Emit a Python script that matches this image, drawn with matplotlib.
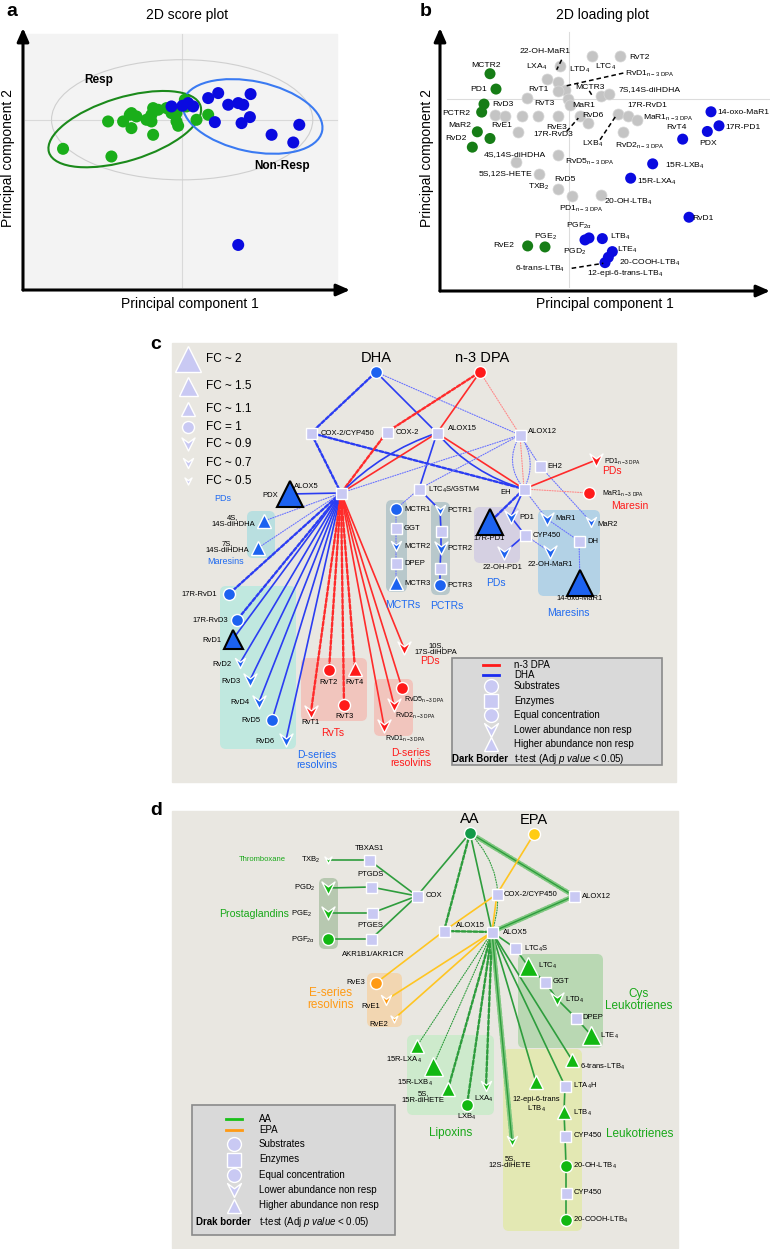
import matplotlib.pyplot as plt
from matplotlib.patches import Ellipse, Rectangle, FancyBboxPatch, FancyArrowPatch
from matplotlib.path import Path

plt.rcParams['font.family'] = ['Liberation Sans', 'DejaVu Sans']
plt.rcParams['mathtext.fontset'] = 'custom'
plt.rcParams['mathtext.rm'] = 'Liberation Sans'
plt.rcParams['mathtext.it'] = 'Liberation Sans:italic'
plt.rcParams['mathtext.bf'] = 'Liberation Sans:bold'
plt.rcParams['mathtext.default'] = 'regular'

# --- DATA: panel a (PCA scores) ---
resp_pc1 = [-3.57, -2.12, -2.22, -1.77, -1.52, -1.57, -1.37, -1.52, -0.92, -0.87,
            -0.92, -0.87, -0.72, -0.47, -0.32, -0.17, -0.12, -0.17, 0.08, 0.13,
            0.43, 0.78, -0.97, -1.07]
resp_pc2 = [-0.87, -1.10, -0.05, -0.05, -0.25, 0.15, 0.10, 0.20, -0.05, -0.45,
            0.15, 0.35, 0.30, 0.35, 0.20, -0.05, -0.18, 0.20, 0.60, 0.40,
            0.00, 0.15, 0.05, 0.00]
nonresp_pc1 = [1.68, 1.08, 0.78, 1.38, 1.68, 1.83, 2.05, 2.03, 1.78, 0.98, 2.68,
               3.33, 3.51, -0.32, 0.01, 0.33, 0.18]
nonresp_pc2 = [-3.75, 0.80, 0.65, 0.45, 0.50, 0.45, 0.77, 0.08, -0.10, -0.07,
               -0.45, -0.68, -0.15, 0.40, 0.42, 0.40, 0.50]

# --- DATA: panel b (PCA loadings) ---
load_green_pc1 = [-2.37, -2.19, -2.55, -2.62, -2.75, -2.37, -2.90, -1.24, -0.72]
load_green_pc2 = [0.75, 0.29, -0.16, -0.40, -0.99, -1.19, -1.45, -4.41, -4.44]
load_blue_pc1 = [4.26, 4.50, 4.15, 3.41, 2.51, 1.85, 3.60, 0.60, 0.48, 1.00, 1.30, 1.18, 1.08]
load_blue_pc2 = [-0.39, -0.81, -0.98, -1.21, -1.95, -2.38, -3.55, -4.17, -4.23, -4.19,
                 -4.58, -4.75, -4.91]
load_gray_pc1 = [0.68, 1.53, -0.27, -0.67, -0.32, -0.12, -0.34, -1.27, -0.02, 0.03,
                 0.95, 1.21, -2.22, -1.92, -1.42, -0.92, -0.32, 0.33, 0.58, 1.48,
                 1.78, 2.03, 1.63, -1.54, -0.32, -1.60, -0.90, -0.34, 0.08, 0.95]
load_gray_pc2 = [1.27, 1.29, 0.97, 0.59, 0.49, 0.27, 0.24, 0.01, -0.01, -0.19,
                 0.07, 0.14, -0.50, -0.51, -0.53, -0.53, -0.53, -0.53, -0.73, -0.45,
                 -0.51, -0.63, -1.01, -1.01, -1.68, -1.88, -2.25, -2.71, -2.91, -2.88]
load_labels = ['22-OH-MaR1', 'RvT2', 'MCTR2', 'LXA$_4$', 'LTD$_4$', 'LTC$_4$',
               'RvD1$_{n-3\\ DPA}$', 'PD1', 'RvT1', 'MCTR3', '7S,14S-diHDHA', 'RvD3',
               'RvT3', 'MaR1', '17R-RvD1', 'PCTR2', 'RvD6', 'MaR1$_{n-3\\ DPA}$', 'MaR2',
               'RvE1', 'RvE3', 'RvT4', 'RvD2', '4S,14S-diHDHA', '17R-RvD3', 'LXB$_4$',
               'RvD2$_{n-3\\ DPA}$', 'PDX', '14-oxo-MaR1', '17R-PD1', 'RvD5$_{n-3\\ DPA}$',
               '15R-LXB$_4$', '5S,12S-HETE', '15R-LXA$_4$', 'RvD5', 'TXB$_2$',
               '20-OH-LTB$_4$', 'PD1$_{n-3\\ DPA}$', 'RvD1', 'PGF$_{2\\alpha}$', 'LTB$_4$',
               'PGD$_2$', 'LTE$_4$', '20-COOH-LTB$_4$', '6-trans-LTB$_4$',
               '12-epi-6-trans-LTB$_4$', 'RvE2', 'PGE$_2$']
load_lab_x = [-0.72, 2.11, -2.49, -0.97, 0.33, 1.11, 2.43, -2.72, -0.92, 0.63, 2.43, -1.97,
              -0.75, 0.45, 2.35, -3.39, 0.73, 2.98, -3.29, -2.02, -0.37, 3.21, -3.39, -1.62,
              -0.47, 0.70, 2.13, 4.18, 5.23, 5.23, 0.61, 3.48, -1.89, 2.63, -0.12, -0.92,
              1.78, 0.38, 4.03, 0.31, 1.55, 0.18, 1.75, 2.43, -0.87, 1.68, -1.97, -0.72]
load_lab_y = [1.42, 1.25, 1.01, 0.94, 0.85, 0.95, 0.75, 0.27, 0.27, 0.35, 0.29, -0.16,
              -0.14, -0.21, -0.21, -0.43, -0.49, -0.58, -0.81, -0.81, -0.85, -0.85, -1.18,
              -1.66, -1.06, -1.36, -1.40, -1.33, -0.41, -0.86, -1.88, -2.00, -2.25, -2.48,
              -2.43, -2.63, -3.09, -3.29, -3.58, -3.81, -4.15, -4.58, -4.52, -4.91, -5.11,
              -5.25, -4.41, -4.13]
leader_lines = [((-0.22, 1.17), (-0.37, 0.87)), ((1.63, 0.77), (-0.07, 0.39)),
                ((-0.07, -0.98), (0.28, -0.58)), ((0.93, -1.23), (1.43, -0.48)),
                ((0.08, -5.08), (1.03, -4.93)), ((0.68, 0.12), (0.60, 0.25))]

# --- DATA: panel c network (key, x, y, fold change or None for enzyme, colour, t-test) ---
c_nodes = [
    ('DHA', 376, 372, 1, 'B', 0), ('DPA', 480, 372, 1, 'R', 0),
    ('COX2CYP', 311, 433, None, '', 0), ('COX2', 387, 432, None, '', 0),
    ('ALOX15', 437, 433, None, '', 0), ('ALOX12', 520, 435, None, '', 0),
    ('ALOX5', 341, 493, None, '', 0), ('LTC4S', 419, 489, None, '', 0),
    ('EH', 524, 489, None, '', 0), ('EH2', 540, 466, None, '', 0),
    ('CYP450', 525, 535, None, '', 0), ('DH', 579, 541, None, '', 0),
    ('PDX', 290, 494, 2, 'B', 1), ('4S14S', 264, 521, 1.1, 'B', 0),
    ('7S14S', 258, 548, 1.1, 'B', 0),
    ('MCTR1', 396, 509, 1, 'B', 0), ('GGT', 396, 528, None, '', 0),
    ('MCTR2', 396, 546, 0.7, 'B', 0), ('DPEP', 396, 563, None, '', 0),
    ('MCTR3', 396, 583, 1.1, 'B', 0),
    ('PCTR1', 440, 510, 0.7, 'B', 0), ('PCTRe1', 441, 531, None, '', 0),
    ('PCTR2', 441, 548, 0.9, 'B', 0), ('PCTRe2', 440, 568, None, '', 0),
    ('PCTR3', 440, 585, 1, 'B', 0),
    ('17R-PD1', 490, 522, 2, 'B', 1), ('PD1', 511, 517, 0.9, 'B', 0),
    ('22-OH-PD1', 504, 553, 0.9, 'B', 0), ('MaR1', 547, 519, 0.9, 'B', 0),
    ('MaR2', 591, 522, 0.7, 'B', 0), ('22-OH-MaR1', 550, 552, 0.9, 'B', 0),
    ('14-oxo-MaR1', 580, 583, 2, 'B', 1),
    ('PD1n3', 596, 460, 0.9, 'R', 0), ('MaR1n3', 589, 493, 1, 'R', 0),
    ('17R-RvD1', 229, 594, 1, 'B', 0), ('17R-RvD3', 237, 620, 1, 'B', 0),
    ('RvD1', 233, 639, 1.5, 'B', 1), ('RvD2', 240, 663, 0.7, 'B', 0),
    ('RvD3', 250, 680, 0.9, 'B', 0), ('RvD4', 259, 702, 0.9, 'B', 0),
    ('RvD5', 272, 720, 1, 'B', 0), ('RvD6', 286, 740, 0.9, 'B', 0),
    ('RvT1', 311, 712, 0.9, 'R', 0), ('RvT2', 329, 670, 1, 'R', 0),
    ('RvT3', 344, 705, 1, 'R', 0), ('RvT4', 355, 669, 1.1, 'R', 0),
    ('RvD5n3', 402, 688, 1, 'R', 0), ('RvD2n3', 394, 705, 0.9, 'R', 0),
    ('RvD1n3', 384, 726, 0.9, 'R', 0), ('10S17S', 404, 648, 0.9, 'R', 0),
]
c_edges = [
    ('DHA', 'COX2CYP', 'B', 'dash', 0), ('DHA', 'ALOX15', 'B', 'solid', 0),
    ('DHA', 'ALOX12', 'b', 'dot', 0), ('DPA', 'COX2', 'R', 'dash', 0),
    ('DPA', 'ALOX15', 'R', 'solid', 0), ('DPA', 'ALOX12', 'r', 'dot', 0),
    ('COX2CYP', 'ALOX5', 'B', 'dash', 0), ('COX2CYP', 'EH', 'B', 'dash', 0),
    ('COX2', 'ALOX5', 'R', 'dash', 0),
    ('ALOX15', 'ALOX5', 'B', 'solid', 0.12), ('ALOX15', 'ALOX5', 'R', 'solid', 0),
    ('ALOX15', 'EH', 'B', 'solid', 0.15), ('ALOX15', 'EH', 'R', 'solid', 0),
    ('ALOX15', 'LTC4S', 'B', 'solid', 0),
    ('ALOX12', 'ALOX5', 'b', 'dot', 0), ('ALOX12', 'LTC4S', 'b', 'dot', 0),
    ('ALOX12', 'EH', 'b', 'dot', 0.35), ('ALOX12', 'EH', 'r', 'dot', 0),
    ('ALOX12', 'EH', 'b', 'dot', -0.3), ('ALOX12', 'EH2', 'b', 'dot', 0),
    ('EH2', 'MaR2', 'b', 'dot', 0),
    ('ALOX5', 'PDX', 'B', 'solid', 0), ('ALOX5', '4S14S', 'b', 'dot', 0),
    ('ALOX5', '7S14S', 'b', 'dot', 0),
    ('ALOX5', '17R-RvD1', 'B', 'dash', 0), ('ALOX5', '17R-RvD3', 'B', 'dash', 0),
    ('ALOX5', 'RvD1', 'B', 'solid', 0), ('ALOX5', 'RvD2', 'B', 'solid', 0),
    ('ALOX5', 'RvD3', 'B', 'solid', 0), ('ALOX5', 'RvD4', 'B', 'solid', 0),
    ('ALOX5', 'RvD5', 'B', 'solid', 0), ('ALOX5', 'RvD6', 'B', 'solid', 0),
    ('ALOX5', 'RvT1', 'R', 'dash', 0), ('ALOX5', 'RvT2', 'R', 'dash', 0),
    ('ALOX5', 'RvT3', 'R', 'dash', 0), ('ALOX5', 'RvT4', 'R', 'dash', 0),
    ('ALOX5', 'RvD5n3', 'R', 'solid', 0), ('ALOX5', 'RvD2n3', 'R', 'solid', 0),
    ('ALOX5', 'RvD1n3', 'R', 'solid', 0), ('ALOX5', '10S17S', 'R', 'solid', 0),
    ('LTC4S', 'MCTR1', 'b', 'dot', 0), ('MCTR1', 'GGT', 'b', 'dot', 0),
    ('GGT', 'MCTR2', 'b', 'dot', 0), ('MCTR2', 'DPEP', 'b', 'dot', 0),
    ('DPEP', 'MCTR3', 'b', 'dot', 0),
    ('LTC4S', 'PCTR1', 'B', 'solid', 0), ('PCTR1', 'PCTRe1', 'B', 'solid', 0),
    ('PCTRe1', 'PCTR2', 'B', 'solid', 0), ('PCTR2', 'PCTRe2', 'B', 'solid', 0),
    ('PCTRe2', 'PCTR3', 'B', 'solid', 0),
    ('EH', 'PD1n3', 'R', 'solid', 0), ('EH', 'MaR1n3', 'r', 'dot', 0),
    ('EH', '17R-PD1', 'B', 'dash', 0), ('EH', 'PD1', 'B', 'solid', 0),
    ('EH', 'MaR1', 'b', 'dot', 0), ('PD1', 'CYP450', 'B', 'solid', 0),
    ('CYP450', '22-OH-PD1', 'B', 'solid', 0), ('CYP450', '22-OH-MaR1', 'b', 'dot', 0),
    ('MaR1', 'DH', 'b', 'dot', 0), ('DH', '14-oxo-MaR1', 'b', 'dot', 0),
]

# --- DATA: panel d network ---
d_nodes = [
    ('AA', 470, 833, 1, 'AA', 0), ('EPA', 534, 834, 1, 'EPA', 0),
    ('TBXAS1', 369, 860, None, '', 0), ('TXB2', 328, 860, 0.5, 'G', 0),
    ('PTGDS', 371, 887, None, '', 0), ('PGD2', 328, 888, 0.9, 'G', 0),
    ('PTGES', 372, 913, None, '', 0), ('PGE2', 328, 913, 0.9, 'G', 0),
    ('AKR', 371, 939, None, '', 0), ('PGF2a', 328, 939, 1, 'G', 0),
    ('COX', 417, 896, None, '', 0), ('COX2CYP', 497, 894, None, '', 0),
    ('ALOX12', 574, 896, None, '', 0), ('ALOX15', 444, 931, None, '', 0),
    ('ALOX5', 492, 932, None, '', 0), ('LTC4S', 515, 948, None, '', 0),
    ('LTC4', 528, 966, 1.5, 'G', 0), ('GGT', 545, 982, None, '', 0),
    ('LTD4', 557, 999, 0.9, 'G', 0), ('DPEP', 576, 1018, None, '', 0),
    ('LTE4', 591, 1035, 1.5, 'G', 0),
    ('RvE3', 376, 983, 1, 'O', 0), ('RvE1', 386, 1000, 0.7, 'O', 0),
    ('RvE2', 394, 1019, 0.5, 'O', 0),
    ('15R-LXA4', 417, 1046, 1.1, 'G', 0), ('15R-LXB4', 433, 1066, 1.5, 'G', 0),
    ('5S15R', 448, 1089, 1.1, 'G', 0), ('LXB4', 467, 1105, 1, 'G', 0),
    ('LXA4', 486, 1086, 0.7, 'G', 0), ('5S12S', 512, 1141, 0.7, 'G', 0),
    ('12epi', 536, 1082, 1.1, 'G', 0), ('6trans', 572, 1060, 1.1, 'G', 0),
    ('LTA4H', 565, 1086, None, '', 0), ('LTB4', 564, 1112, 1.1, 'G', 0),
    ('CYPa', 565, 1136, None, '', 0), ('20OH', 566, 1166, 1, 'G', 0),
    ('CYPb', 566, 1193, None, '', 0), ('20COOH', 566, 1220, 1, 'G', 0),
]
d_edges = [
    ('AA', 'COX', 'G', 'solid', 0), ('AA', 'ALOX15', 'G', 'dash', 0),
    ('AA', 'ALOX5', 'G', 'solid', 0), ('AA', 'ALOX5', 'G', 'dot', -0.3),
    ('AA', 'ALOX12', 'G', 'hatch', 0),
    ('EPA', 'COX2CYP', 'O', 'solid', 0), ('COX2CYP', 'ALOX15', 'O', 'solid', 0),
    ('COX2CYP', 'ALOX5', 'O', 'solid', 0), ('ALOX12', 'ALOX5', 'G', 'hatch', 0),
    ('ALOX15', 'ALOX5', 'G', 'dash', 0),
    ('COX', 'TBXAS1', 'G', 'solid', 0), ('COX', 'PTGDS', 'G', 'solid', 0),
    ('COX', 'PTGES', 'G', 'solid', 0), ('COX', 'AKR', 'G', 'solid', 0),
    ('TBXAS1', 'TXB2', 'G', 'solid', 0), ('PTGDS', 'PGD2', 'G', 'solid', 0),
    ('PTGES', 'PGE2', 'G', 'solid', 0), ('AKR', 'PGF2a', 'G', 'solid', 0),
    ('ALOX15', 'RvE3', 'O', 'solid', 0), ('ALOX5', 'RvE1', 'O', 'solid', 0),
    ('ALOX5', 'RvE2', 'O', 'solid', 0),
    ('ALOX5', 'LTC4S', 'G', 'solid', 0), ('LTC4S', 'LTC4', 'G', 'solid', 0),
    ('LTC4', 'GGT', 'G', 'solid', 0), ('GGT', 'LTD4', 'G', 'solid', 0),
    ('LTD4', 'DPEP', 'G', 'solid', 0), ('DPEP', 'LTE4', 'G', 'solid', 0),
    ('ALOX5', '6trans', 'G', 'solid', 0), ('ALOX5', 'LTA4H', 'G', 'solid', 0),
    ('ALOX5', '12epi', 'G', 'solid', 0), ('LTA4H', 'LTB4', 'G', 'solid', 0),
    ('LTB4', 'CYPa', 'G', 'solid', 0), ('CYPa', '20OH', 'G', 'solid', 0),
    ('20OH', 'CYPb', 'G', 'solid', 0), ('CYPb', '20COOH', 'G', 'solid', 0),
    ('ALOX5', '15R-LXA4', 'G', 'dot', 0), ('ALOX5', '15R-LXB4', 'G', 'dot', 0),
    ('ALOX5', '5S15R', 'G', 'dash', 0), ('ALOX5', 'LXB4', 'G', 'dash', 0),
    ('ALOX5', 'LXA4', 'G', 'dash', 0), ('ALOX5', '5S12S', 'G', 'hatch', 0),
]

# --- LABELS (text, x, y, ha, fontsize, colour) ---
BL, RD, GN, OR = '#1f6af0', '#ff1a1a', '#18a818', '#ff9a14'
c_labels = [
    ('DHA', 376, 358, 'center', 10.5, 'k'), ('n-3 DPA', 482, 358, 'center', 10.5, 'k'),
    ('COX-2/CYP450', 321, 433.5, 'left', 5.5, 'k'), ('COX-2', 396, 432.5, 'left', 5.5, 'k'),
    ('ALOX15', 448, 428.5, 'left', 5.5, 'k'), ('ALOX12', 528, 431, 'left', 5.5, 'k'),
    ('ALOX5', 306, 486, 'center', 5.5, 'k'), ('LTC$_4$S/GSTM4', 428, 489.5, 'left', 5.5, 'k'),
    ('EH', 506, 492, 'center', 5.5, 'k'), ('EH2', 547, 466.5, 'left', 5.5, 'k'),
    ('CYP450', 533, 535.5, 'left', 5.5, 'k'), ('DH', 587, 541, 'left', 5.5, 'k'),
    ('PDX', 270, 495, 'center', 5.5, 'k'), ('4S,\n14S-diHDHA', 233, 521, 'center', 5.5, 'k'),
    ('7S,\n14S-diHDHA', 227, 547, 'center', 5.5, 'k'), ('Maresins', 226, 561.5, 'center', 6.5, BL),
    ('PDs', 223, 498.5, 'center', 6.5, BL),
    ('MCTR1', 404, 509.5, 'left', 5.5, 'k'), ('GGT', 404, 528.5, 'left', 5.5, 'k'),
    ('MCTR2', 404, 546, 'left', 5.5, 'k'), ('DPEP', 404, 563.5, 'left', 5.5, 'k'),
    ('MCTR3', 404, 583.5, 'left', 5.5, 'k'),
    ('PCTR1', 447.5, 510.5, 'left', 5.5, 'k'), ('PCTR2', 447.5, 548, 'left', 5.5, 'k'),
    ('PCTR3', 447.5, 585, 'left', 5.5, 'k'),
    ('MCTRs', 403, 605, 'center', 7.5, BL), ('PCTRs', 447, 605.5, 'center', 7.5, BL),
    ('17R-PD1', 489, 538.5, 'center', 5.5, 'k'), ('PD1', 519, 517, 'left', 5.5, 'k'),
    ('22-OH-PD1', 503, 567, 'center', 5.5, 'k'), ('PDs', 496, 583, 'center', 7.5, BL),
    ('MaR1', 555, 518.5, 'left', 5.5, 'k'), ('MaR2', 597, 524, 'left', 5.5, 'k'),
    ('22-OH-MaR1', 550, 564.5, 'center', 5.5, 'k'), ('14-oxo-MaR1', 580, 598, 'center', 5.5, 'k'),
    ('Maresins', 568, 612.7, 'center', 7.5, BL),
    ('PD1$_{n-3\\ DPA}$', 604, 461.5, 'left', 5, 'k'), ('PDs', 612, 471, 'center', 7.5, RD),
    ('MaR1$_{n-3\\ DPA}$', 602, 493.5, 'left', 5, 'k'), ('Maresin', 630, 505.5, 'center', 7.5, RD),
    ('17R-RvD1', 217.5, 594.5, 'right', 5.5, 'k'), ('17R-RvD3', 210, 620.5, 'center', 5.5, 'k'),
    ('RvD1', 211.7, 640, 'center', 5.5, 'k'), ('RvD2', 222, 664, 'center', 5.5, 'k'),
    ('RvD3', 231, 681.5, 'center', 5.5, 'k'), ('RvD4', 240, 702.5, 'center', 5.5, 'k'),
    ('RvD5', 251.3, 720.5, 'center', 5.5, 'k'), ('RvD6', 265.3, 741, 'center', 5.5, 'k'),
    ('D-series\nresolvins', 316.7, 760, 'center', 7.5, BL),
    ('RvT2', 329, 682.5, 'center', 5.5, 'k'), ('RvT4', 355, 682.5, 'center', 5.5, 'k'),
    ('RvT3', 344, 716.7, 'center', 5.5, 'k'), ('RvT1', 310.7, 722.7, 'center', 5.5, 'k'),
    ('RvTs', 332.7, 732.7, 'center', 7.5, RD),
    ('RvD5$_{n-3\\ DPA}$', 404, 700, 'left', 5, 'k'), ('RvD2$_{n-3\\ DPA}$', 395, 716, 'left', 5, 'k'),
    ('RvD1$_{n-3\\ DPA}$', 385, 739, 'left', 5, 'k'),
    ('D-series\nresolvins', 411, 757.7, 'center', 7.5, RD),
    ('10S,\n17S-diHDPA', 436, 649, 'center', 5.5, 'k'), ('PDs', 430, 661, 'center', 7.5, RD),
]
d_labels = [
    ('AA', 469.3, 818.5, 'center', 10.5, 'k'), ('EPA', 534, 819.5, 'center', 10.5, 'k'),
    ('TBXAS1', 369.3, 848.5, 'center', 5.5, 'k'), ('TXB$_2$', 311, 860, 'center', 5.5, 'k'),
    ('Thromboxane', 262.3, 859.5, 'center', 5.5, GN),
    ('PTGDS', 370.7, 874.5, 'center', 5.5, 'k'), ('PGD$_2$', 305, 888, 'center', 5.5, 'k'),
    ('PTGES', 370.7, 925, 'center', 5.5, 'k'), ('PGE$_2$', 301.5, 913.5, 'center', 5.5, 'k'),
    ('Prostaglandins', 254, 914, 'center', 7.6, GN),
    ('AKR1B1/AKR1CR', 373.3, 954.5, 'center', 5.5, 'k'),
    ('PGF$_{2\\alpha}$', 303.3, 940, 'center', 5.5, 'k'),
    ('COX', 425.5, 895.7, 'left', 5.5, 'k'), ('COX-2/CYP450', 503.5, 894, 'left', 5.5, 'k'),
    ('ALOX12', 581.7, 896, 'left', 5.5, 'k'), ('ALOX15', 470.7, 925, 'center', 5.5, 'k'),
    ('ALOX5', 502.7, 932.5, 'left', 5.5, 'k'), ('LTC$_4$S', 523.5, 948.5, 'left', 5.5, 'k'),
    ('LTC$_4$', 538.5, 965.5, 'left', 5.5, 'k'), ('GGT', 552.3, 981.7, 'left', 5.5, 'k'),
    ('LTD$_4$', 564.7, 1000, 'left', 5.5, 'k'), ('DPEP', 582.7, 1017.5, 'left', 5.5, 'k'),
    ('LTE$_4$', 600, 1036, 'left', 5.5, 'k'),
    ('Cys\nLeukotrienes', 638.3, 1000, 'center', 8.5, GN),
    ('RvE3', 355.7, 982.7, 'center', 5.5, 'k'), ('RvE1', 371, 1006.7, 'center', 5.5, 'k'),
    ('RvE2', 379, 1024, 'center', 5.5, 'k'),
    ('E-series\nresolvins', 330.7, 999.3, 'center', 8.5, OR),
    ('15R-LXA$_4$', 404.3, 1060, 'center', 5.5, 'k'), ('15R-LXB$_4$', 415, 1083.3, 'center', 5.5, 'k'),
    ('5S,\n15R-diHETE', 423.3, 1097.5, 'center', 5.5, 'k'), ('LXB$_4$', 466.7, 1117.3, 'center', 5.5, 'k'),
    ('LXA$_4$', 484, 1099, 'center', 5.5, 'k'), ('Lipoxins', 450.7, 1133.3, 'center', 8.5, GN),
    ('12-epi-6-trans\nLTB$_4$', 536, 1105, 'center', 5.5, 'k'),
    ('6-trans-LTB$_4$', 579.5, 1067, 'left', 5.5, 'k'), ('LTA$_4$H', 573, 1086, 'left', 5.5, 'k'),
    ('LTB$_4$', 573.3, 1113, 'left', 5.5, 'k'), ('CYP450', 573.3, 1135.5, 'left', 5.5, 'k'),
    ('Leukotrienes', 640, 1134, 'center', 8.5, GN),
    ('20-OH-LTB$_4$', 573.3, 1166, 'left', 5.5, 'k'), ('CYP450', 573.3, 1192.7, 'left', 5.5, 'k'),
    ('20-COOH-LTB$_4$', 573.3, 1220, 'left', 5.5, 'k'),
    ('5S,\n12S-diHETE', 510, 1161.7, 'center', 5.5, 'k'),
]

# fold-change legend of panel c
fc_values = [2, 1.5, 1.1, 1, 0.9, 0.7, 0.5]
fc_labels = ['FC ~ 2', 'FC ~ 1.5', 'FC ~ 1.1', 'FC = 1', 'FC ~ 0.9', 'FC ~ 0.7', 'FC ~ 0.5']
fc_rows = [359.3, 386, 409.3, 427.3, 444, 463.3, 480.7]

# --- STYLE ---
W, H = 777, 1249
ENZ = '#c9c9f3'
node_colors = {'B': '#1c62f0', 'R': '#ff1a1a', 'G': '#12b812', 'AA': '#129a48',
               'EPA': '#ffcc14', 'O': '#ff9a14', '': ENZ}
edge_colors = {'B': '#2b3df2', 'b': '#6b74ff', 'R': '#ff2b2b', 'r': '#ff8a8a',
               'G': '#2e9d3d', 'O': '#ffc522'}
tri_px = {1.1: 14, 1.5: 19, 2: 27}
chev_px = {0.9: 13, 0.7: 10, 0.5: 7}
chevron = Path([(-1, 1), (0, -1), (1, 1), (0, 0.25), (-1, 1)],
               [Path.MOVETO, Path.LINETO, Path.LINETO, Path.LINETO, Path.CLOSEPOLY])


def marker_for(fc):
    if fc is None:
        return 's', 11
    if fc > 1.05:
        return '^', tri_px[fc]
    if fc < 0.95:
        return chevron, chev_px[fc]
    return 'o', 12


def rect(x0, y0, x1, y1):
    return [x0 / W, 1 - y1 / H, (x1 - x0) / W, (y1 - y0) / H]


def axis_arrows(ax):
    kw = dict(arrowstyle='-|>,head_length=0.8,head_width=0.35', lw=2.2, color='black',
              shrinkA=0, shrinkB=0)
    ax.annotate('', xy=(0, 1), xytext=(0, 0), xycoords='axes fraction', arrowprops=kw,
                annotation_clip=False)
    ax.annotate('', xy=(1, 0), xytext=(0, 0), xycoords='axes fraction', arrowprops=kw,
                annotation_clip=False)


fig = plt.figure(figsize=(W / 100, H / 100), dpi=100)

# --- PANEL A ---
axa = fig.add_axes(rect(23, 28, 350, 290))
axa.set_xlim(-4.77, 5.03)
axa.set_ylim(-5.1, 2.75)
axa.axis('off')
axa.add_patch(Rectangle((-4.72, -5.0), 9.37, 7.57, color='#f3f3f3', zorder=0))
axa.plot([0, 0], [-5.0, 2.57], color='#d9d9d9', lw=0.8, zorder=1)
axa.plot([-4.72, 4.65], [0, 0], color='#d9d9d9', lw=0.8, zorder=1)
axa.add_patch(Ellipse((0, 0), 7.83, 3.6, fill=False, ec='#cfcfcf', lw=0.8, zorder=2))
axa.add_patch(Ellipse((-1.72, -0.28), 4.75, 1.9, angle=17, fill=False, ec='#1b8a1b', lw=1.5, zorder=2))
axa.add_patch(Ellipse((2.11, 0.10), 4.26, 2.1, angle=-12, fill=False, ec='#3a7af2', lw=1.5, zorder=2))
axa.scatter(resp_pc1, resp_pc2, s=75, color='#1aae1a', edgecolor='none', zorder=3)
axa.scatter(nonresp_pc1, nonresp_pc2, s=75, color='#0a0ae0', edgecolor='none', zorder=4)
axa.text(-2.5, 1.2, 'Resp', fontsize=8.5, fontweight='bold', ha='center', va='center')
axa.text(3.0, -1.38, 'Non-Resp', fontsize=8.5, fontweight='bold', ha='center', va='center')
axis_arrows(axa)

# --- PANEL B ---
axb = fig.add_axes(rect(440, 28, 770, 291))
axb.set_xlim(-3.87, 6.03)
axb.set_ylim(-5.76, 2.12)
axb.axis('off')
axb.plot([0, 0], [-5.63, 2.0], color='#dcdcdc', lw=0.8, zorder=1)
axb.plot([-3.67, 6.03], [0, 0], color='#dcdcdc', lw=0.8, zorder=1)
axb.scatter(load_gray_pc1, load_gray_pc2, s=63, color='#c4c4c4', edgecolor='#d8d8d8', lw=0.5, zorder=3)
axb.scatter(load_green_pc1, load_green_pc2, s=63, color='#167d16', edgecolor='none', zorder=3)
axb.scatter(load_blue_pc1, load_blue_pc2, s=63, color='#0a0ae0', edgecolor='none', zorder=3)
for (p, q) in leader_lines:
    axb.plot([p[0], q[0]], [p[1], q[1]], color='k', lw=1.1, ls=(0, (3, 2)), zorder=4)
for t, x, y in zip(load_labels, load_lab_x, load_lab_y):
    axb.text(x, y, t, fontsize=6.1, ha='center', va='center', zorder=5, clip_on=False)
axis_arrows(axb)

# --- PANELS C & D (pixel space overlay) ---
ax = fig.add_axes([0, 0, 1, 1])
ax.set_xlim(0, W)
ax.set_ylim(H, 0)
ax.axis('off')
ax.patch.set_visible(False)

# texts of panels a, b
ax.text(6, 11, 'a', fontsize=14, fontweight='bold', va='center')
ax.text(187, 15, '2D score plot', fontsize=10, ha='center', va='center')
ax.text(190, 304, 'Principal component 1', fontsize=10, ha='center', va='center')
ax.text(8, 158, 'Principal component 2', fontsize=10, ha='center', va='center', rotation=90)
ax.text(420, 11, 'b', fontsize=14, fontweight='bold', va='center')
ax.text(602, 15, '2D loading plot', fontsize=10, ha='center', va='center')
ax.text(605, 304, 'Principal component 1', fontsize=10, ha='center', va='center')
ax.text(427, 158, 'Principal component 2', fontsize=10, ha='center', va='center', rotation=90)
ax.text(150, 344, 'c', fontsize=14, fontweight='bold', va='center')
ax.text(150, 810, 'd', fontsize=14, fontweight='bold', va='center')

# background panels
ax.add_patch(Rectangle((172, 343), 504, 439, color='#e9e7e1', zorder=0))
ax.add_patch(Rectangle((172, 811), 506, 437, color='#e9e7e1', zorder=0))


def group_box(x0, y0, x1, y1, col):
    ax.add_patch(FancyBboxPatch((x0, y0), x1 - x0, y1 - y0,
                                boxstyle='round,pad=0,rounding_size=6',
                                fc=col, ec='none', zorder=1))


for b in [(247, 511, 275, 558, '#b9dfe0'), (386, 500, 407, 592, '#b8c8cb'),
          (431, 502, 450, 595, '#b8c8cb'), (474, 507, 520, 563, '#d5d0e2'),
          (538, 510, 600, 596, '#b3d2e6'), (220, 586, 296, 749, '#c0e8df'),
          (301, 658, 367, 721, '#f1c5bd'), (374, 679, 413, 736, '#f1c5bd'),
          (319, 878, 338, 949, '#b7c8b0'), (367, 973, 402, 1027, '#f2d6b1'),
          (503, 1049, 582, 1231, '#e3e8b3'), (518, 954, 603, 1048, '#b9d8b3'),
          (407, 1035, 494, 1115, '#cdeacc')]:
    group_box(*b)


def draw_edge(p, q, col, style, rad):
    c = edge_colors[col]
    if style == 'hatch':
        layers = [(3.4, (0, (0.45, 0.45)), '#80c880'), (1.0, '-', c)]
    elif style == 'dash':
        layers = [(1.7, (0, (1.6, 0.9)), c)]
    elif style == 'dot':
        layers = [(0.8, (0, (1, 1.3)), c)]
    else:
        layers = [(1.2, '-', c)]
    for lw, ls, cc in layers:
        ax.add_patch(FancyArrowPatch(p, q, arrowstyle='-', connectionstyle=f'arc3,rad={rad}',
                                     linewidth=lw, linestyle=ls, color=cc,
                                     shrinkA=0, shrinkB=0, zorder=3))


def draw_node(x, y, fc, col, sig):
    m, px = marker_for(fc)
    ax.plot(x, y, marker=m, ms=px * 0.72, mfc=node_colors[col],
            mec='black' if sig else 'white', mew=1.5 if sig else 1.0, ls='none', zorder=5)


def draw_network(nodes, edges, labels):
    pos = {n[0]: (n[1], n[2]) for n in nodes}
    for a, b, col, style, rad in edges:
        draw_edge(pos[a], pos[b], col, style, rad)
    for key, x, y, fc, col, sig in nodes:
        draw_node(x, y, fc, col, sig)
    for t, x, y, ha, fs, col in labels:
        ax.text(x, y, t, fontsize=fs, ha=ha, va='center', color=col, zorder=6,
                multialignment='center', linespacing=1.0)


draw_network(c_nodes, c_edges, c_labels)
draw_network(d_nodes, d_edges, d_labels)

# fold-change legend
for fc, lab, y in zip(fc_values, fc_labels, fc_rows):
    m, px = marker_for(fc)
    ax.plot(188, y, marker=m, ms=px * 0.72, mfc=ENZ, mec='white', mew=1.0, ls='none', zorder=5)
    ax.text(206, y, lab, fontsize=8.5, va='center', zorder=6)


def legend_box(x0, y0, x1, y1, xm, xt, lines, rows, bold_label):
    ax.add_patch(Rectangle((x0, y0), x1 - x0, y1 - y0, fc='#d9d9d9', ec='#8a8a8a', lw=1.2, zorder=4))
    items = lines + [('o', 'Substrates'), ('s', 'Enzymes'), ('o', 'Equal concentration'),
                     (chevron, 'Lower abundance non resp'), ('^', 'Higher abundance non resp')]
    for (kind, text), y in zip(items, rows):
        if isinstance(kind, str) and kind.startswith('#'):
            ax.plot([xm - 8, xm + 8], [y, y], color=kind, lw=2, zorder=5)
        else:
            ax.plot(xm, y, marker=kind, ms=10, mfc=ENZ, mec='white', mew=1.0, ls='none', zorder=5)
        ax.text(xt, y, text, fontsize=7, va='center', zorder=6)
    ax.text(xm - 11, rows[-1], bold_label, fontsize=7, fontweight='bold', ha='center', va='center', zorder=6)
    ax.text(xt, rows[-1], 't-test (Adj $\\mathit{p\\ value}$ < 0.05)', fontsize=7, va='center', zorder=6)


legend_box(452, 657.5, 662, 765, 491, 514,
           [('#ff1a1a', 'n-3 DPA'), ('#1a2cf0', 'DHA')],
           [664.5, 674.5, 686, 701, 715, 729.5, 744, 758.5], 'Dark Border')
legend_box(192, 1105, 395, 1235, 234, 259,
           [('#19c019', 'AA'), ('#ff9a14', 'EPA')],
           [1119, 1130, 1144, 1159.5, 1175, 1190, 1205.5, 1221.7], 'Drak border')

fig.savefig('out.png', dpi=100)
plt.close(fig)
